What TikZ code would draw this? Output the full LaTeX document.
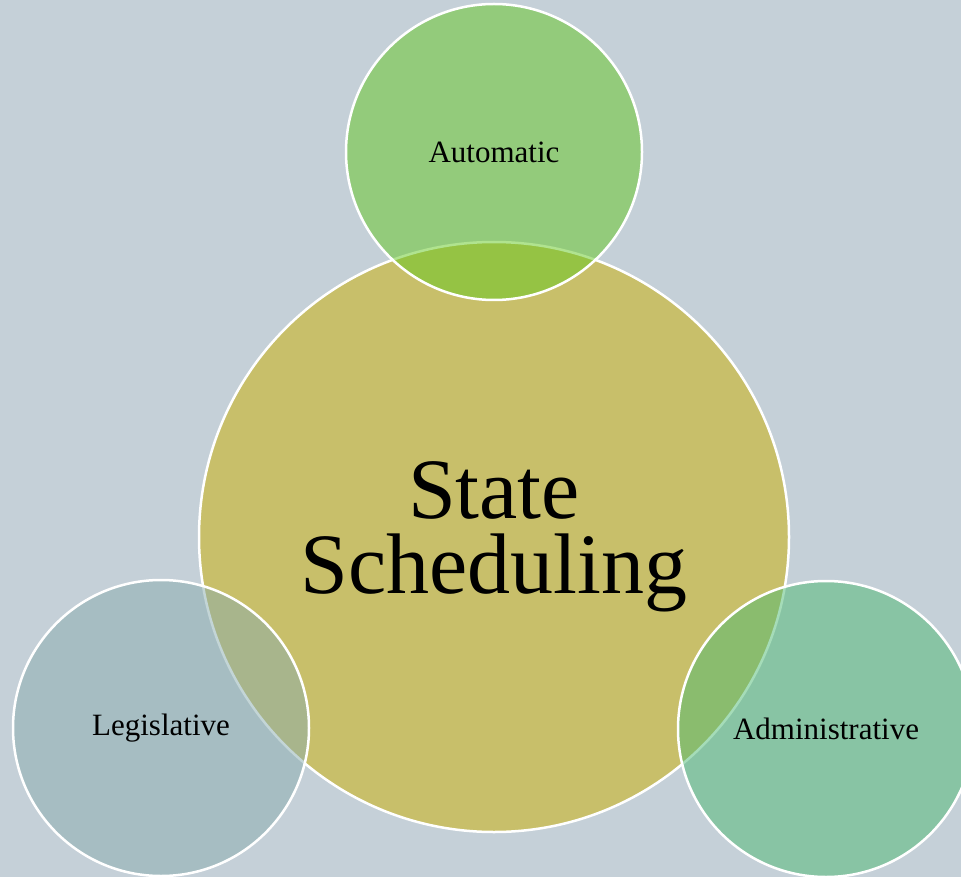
\documentclass[tikz,border=0pt]{standalone}
\usepackage{fontspec}
\setmainfont{Liberation Serif}
\definecolor{backgr}{RGB}{197,208,216}
\definecolor{statecol}{RGB}{200,191,106}
\definecolor{autocol}{RGB}{99,200,32}
\definecolor{admincol}{RGB}{77,186,114}
\definecolor{legiscol}{RGB}{137,172,174}
\begin{document}
\begin{tikzpicture}[x=1pt,y=-1pt,
  bigc/.style={circle,draw=white,line width=2.5pt,fill=statecol,inner sep=0pt,minimum size=590pt,align=center,font=\fontsize{86}{75}\selectfont},
  smallc/.style={circle,draw=white,line width=2.5pt,fill opacity=0.5,text opacity=1,inner sep=0pt,minimum size=296pt,font=\fontsize{31}{36}\selectfont}]
\useasboundingbox (0,0) rectangle (961,877);
\fill [backgr] (0,0) rectangle (961,877);
\node [bigc] (state) at (494,537) {State\\Scheduling};
\node [smallc,fill=autocol] (auto) at (494,152) {Automatic};
\node [smallc,fill=legiscol] (legis) at (161,728) {Legislative};
\node [smallc,fill=admincol] (admin) at (826,729) {Administrative};
\end{tikzpicture}
\end{document}
